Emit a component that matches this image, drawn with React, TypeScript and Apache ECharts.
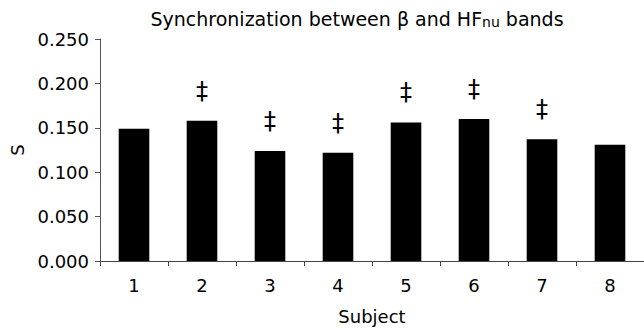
import React, { useEffect, useRef } from "react";
import * as echarts from "echarts";

const subjects = ["1", "2", "3", "4", "5", "6", "7", "8"];
const syncValues = [0.149, 0.158, 0.124, 0.122, 0.156, 0.16, 0.137, 0.131];
const significant = [false, true, true, true, true, true, true, false];
const yTicks = { min: 0, max: 0.25, interval: 0.05 };

const FONT = "DejaVu Sans";

export default function App() {
  const ref = useRef<HTMLDivElement>(null);
  useEffect(() => {
    if (!ref.current) return;
    const chart = echarts.init(ref.current, undefined, { renderer: "svg" });
    chart.setOption({
      animation: false,
      backgroundColor: "#ffffff",
      grid: { left: 100, right: -2, top: 39, bottom: 71, containLabel: false },
      graphic: [
        {
          type: "text",
          x: 357,
          y: 19,
          style: {
            text: "Synchronization between β and HF{sub|nu} bands",
            fontFamily: FONT,
            fontSize: 19,
            fill: "#000",
            align: "center",
            verticalAlign: "middle",
            rich: {
              sub: { fontFamily: FONT, fontSize: 14, verticalAlign: "bottom", lineHeight: 15, fill: "#000" },
            },
          },
        },
      ],
      xAxis: {
        type: "category",
        data: subjects,
        name: "Subject",
        nameLocation: "middle",
        nameGap: 46,
        nameTextStyle: { fontFamily: FONT, fontSize: 18, color: "#000" },
        axisLine: { lineStyle: { color: "#444", width: 1 } },
        axisTick: { show: true, length: 5, inside: false, lineStyle: { color: "#444" } },
        axisLabel: { fontFamily: FONT, fontSize: 18, color: "#000", margin: 15 },
      },
      yAxis: {
        type: "value",
        min: yTicks.min,
        max: yTicks.max,
        interval: yTicks.interval,
        name: "S",
        nameLocation: "middle",
        nameGap: 74,
        nameRotate: 90,
        nameTextStyle: { fontFamily: FONT, fontSize: 18, color: "#000" },
        splitLine: { show: false },
        axisLine: { show: true, lineStyle: { color: "#555", width: 1 } },
        axisTick: { show: true, length: 5, lineStyle: { color: "#555" } },
        axisLabel: {
          fontFamily: FONT,
          fontSize: 18,
          color: "#000",
          margin: 11,
          formatter: (v: number) => v.toFixed(3),
        },
      },
      series: [
        {
          type: "bar",
          barWidth: "45%",
          itemStyle: { color: "#000" },
          data: syncValues.map((v, i) => ({
            value: v,
            label: {
              show: significant[i],
              position: "top",
              distance: 18,
              formatter: "‡",
              fontFamily: FONT,
              fontSize: 24,
              color: "#000",
            },
          })),
        },
      ],
    });
    return () => chart.dispose();
  }, []);
  return <div ref={ref} style={{ width: 644, height: 332, position: "absolute", left: 0, top: 0 }} />;
}
